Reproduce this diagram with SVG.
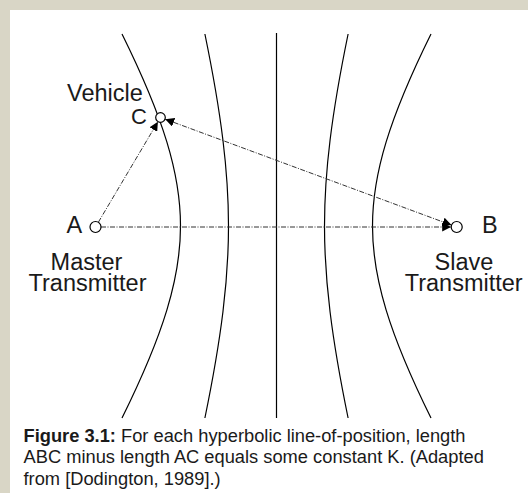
<svg xmlns="http://www.w3.org/2000/svg" width="528" height="493" viewBox="0 0 528 493">
<defs>
<style>
.curve{fill:none;stroke:#000;stroke-width:1.2}
.ray{fill:none;stroke:#333;stroke-width:1;stroke-dasharray:5 1.5 1 1.5}
.node{fill:#fff;stroke:#000;stroke-width:1.2}
.lbl{font-family:"Liberation Sans",Arial,sans-serif;font-size:23.5px;fill:#1a1a1a}
.cap{font-family:"Liberation Sans",Arial,sans-serif;font-size:18.3px;fill:#1a1a1a}
</style>
<marker id="ah" viewBox="0 0 10 10" refX="10" refY="5" markerWidth="9" markerHeight="9" markerUnits="userSpaceOnUse" orient="auto-start-reverse">
<path d="M0,0 L10,5 L0,10 Z" fill="#000"/>
</marker>
</defs>
<rect x="0" y="0" width="528" height="493" fill="#d9d6c6"/>
<rect x="10" y="10" width="518" height="483" fill="#fff"/>
<g id="hyperbolas">
<path class="curve" d="M122.0,34.0 C143.28,77.07 157.53,111.38 166.84,141.95 C176.15,172.52 180.5,199.24 180.5,226 C180.5,252.76 176.15,279.48 166.84,310.05 C157.53,340.62 143.28,374.93 122.0,418.0"/>
<path class="curve" d="M204.9,34.0 C213.36,75.18 219.13,109.17 222.92,139.99 C226.71,170.81 228.5,198.39 228.5,226 C228.5,253.61 226.71,281.19 222.92,312.01 C219.13,342.83 213.36,376.82 204.9,418.0"/>
<path class="curve" d="M276.5,33 L276.5,418"/>
<path class="curve" d="M348.1,34.0 C339.64,75.18 333.87,109.17 330.08,139.99 C326.29,170.81 324.5,198.39 324.5,226 C324.5,253.61 326.29,281.19 330.08,312.01 C333.87,342.83 339.64,376.82 348.1,418.0"/>
<path class="curve" d="M431.0,34.0 C409.72,77.07 395.47,111.38 386.16,141.95 C376.85,172.52 372.5,199.24 372.5,226 C372.5,252.76 376.85,279.48 386.16,310.05 C395.47,340.62 409.72,374.93 431.0,418.0"/>
</g>
<g id="connectors">
<line class="ray" x1="101" y1="227" x2="451.2" y2="227" marker-end="url(#ah)"/>
<line class="ray" x1="98.3" y1="222.3" x2="157.9" y2="121.8" marker-end="url(#ah)"/>
<line class="ray" x1="165.2" y1="119.2" x2="451.5" y2="225.1" marker-start="url(#ah)" marker-end="url(#ah)"/>
</g>
<g id="node-A">
<circle class="node" cx="95.5" cy="227" r="5.5"/>
<text class="lbl" x="66.5" y="233">A</text>
<text class="lbl" x="86.5" y="270" text-anchor="middle">Master</text>
<text class="lbl" x="87.5" y="290.5" text-anchor="middle">Transmitter</text>
</g>
<g id="node-B">
<circle class="node" cx="456.7" cy="227" r="5.5"/>
<text class="lbl" x="482" y="233">B</text>
<text class="lbl" x="464" y="270" text-anchor="middle">Slave</text>
<text class="lbl" x="463.7" y="290.5" text-anchor="middle">Transmitter</text>
</g>
<g id="node-C">
<circle class="node" cx="160.5" cy="117.5" r="4.8"/>
<text class="lbl" x="67" y="100.5">Vehicle</text>
<text class="lbl" x="131" y="124" style="font-size:22px">C</text>
</g>
<g id="caption">
<text class="cap" x="23.5" y="441.5"><tspan font-weight="bold">Figure 3.1:</tspan> For each hyperbolic line-of-position, length</text>
<text class="cap" x="23.5" y="463">ABC minus length AC equals some constant K. (Adapted</text>
<text class="cap" x="23.5" y="484.5">from [Dodington, 1989].)</text>
</g>
</svg>
